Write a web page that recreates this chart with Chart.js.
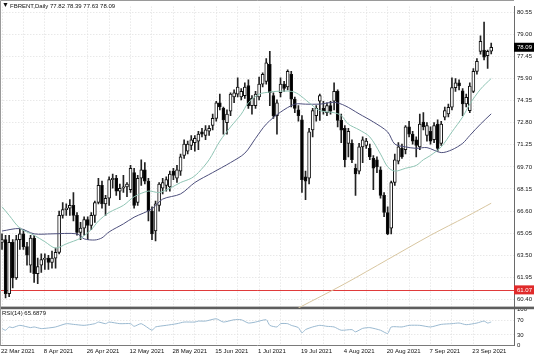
<!DOCTYPE html>
<html>
<head>
<meta charset="utf-8">
<script src="https://cdn.jsdelivr.net/npm/chart.js@4/dist/chart.umd.min.js"></script>
<style>
  html, body { margin: 0; padding: 0; background: #fff; }
  #wrap { position: relative; width: 536px; height: 357px; overflow: hidden; }
  canvas { position: absolute; left: 0; top: 0; }
  .lbl { position: absolute; font-family: 'Liberation Sans', Arial, sans-serif; font-size: 6px; line-height: 8px; color: #111; white-space: pre; }
</style>
</head>
<body>
<div id="wrap">
  <canvas id="c" width="536" height="357"></canvas>
  <div class="lbl" style="left:2px;top:1px;font-size:7px;">▼</div>
  <div class="lbl" style="left:10px;top:2px;">FBRENT,Daily 77.82 78.39 77.63 78.09</div>
  <div class="lbl" style="left:2px;top:309px;">RSI(14) 65.6879</div>
</div>
<script>
// ---- DATA ----
const opens  = [64.4,64.6,60.8,64.4,61.9,64.6,65.0,64.1,62.8,64.7,62.2,62.8,63.2,63.3,63.0,63.3,63.7,66.3,66.7,66.8,
  67.0,66.3,65.1,65.4,66.0,65.6,66.3,67.2,68.4,67.1,67.5,68.8,68.9,68.0,68.2,68.3,68.1,69.3,67.2,68.9,
  69.5,68.7,66.6,65.2,67.0,68.2,68.4,68.3,69.4,68.9,69.4,70.5,70.8,71.2,71.4,71.5,72.15,71.9,72.2,72.6,
  73.1,74.2,73.8,72.8,73.6,74.6,74.8,74.6,74.7,75.4,74.0,74.0,74.6,75.5,75.7,76.9,74.7,73.3,74.9,75.5,
  75.3,76.2,74.45,73.7,73.0,69.0,68.9,72.3,73.3,74.3,73.8,73.5,74.0,74.3,75.0,72.96,72.4,71.35,71.35,69.6,
  69.4,71.1,71.2,71.0,70.3,70.2,69.5,67.7,66.5,65.4,68.6,70.1,71.0,70.9,72.5,72.0,71.6,71.1,72.85,71.9,
  72.2,71.6,72.7,71.35,73.19,73.42,73.88,75.26,75.6,75.03,74.11,73.65,75.0,76.4,77.8,77.9,77.5,77.82];
const highs  = [65.0,64.9,64.9,64.6,64.9,65.4,65.3,64.4,64.9,64.9,63.3,63.6,63.6,63.5,63.8,64.0,66.6,67.2,67.1,67.4,
  67.9,66.5,65.8,66.2,66.2,66.5,67.3,68.9,68.7,67.7,69.0,69.2,69.1,68.5,69.1,68.6,69.8,69.6,69.1,70.2,
  70.0,68.9,66.9,67.3,68.6,68.9,69.0,69.4,69.6,69.8,70.6,71.6,71.5,71.9,71.9,72.2,72.4,72.6,72.6,73.4,
  74.3,74.8,73.9,73.7,74.9,75.1,75.95,75.2,75.6,75.8,74.7,75.0,76.0,76.3,77.3,77.8,74.9,74.4,75.95,75.7,
  76.5,76.4,74.6,74.0,73.3,69.4,72.4,73.8,74.0,74.8,74.3,74.2,74.3,75.6,75.1,73.4,72.6,72.4,71.6,69.9,
  71.35,71.8,71.7,71.3,70.5,70.4,69.7,67.9,66.9,68.7,70.6,71.4,71.3,72.6,72.9,72.2,71.8,73.4,73.5,72.8,
  72.5,72.8,73.0,72.9,73.9,74.1,75.95,75.9,75.8,75.2,74.8,75.6,76.6,77.3,78.9,79.86,77.9,78.39];
const lows   = [63.9,60.5,60.6,61.2,61.8,63.9,63.9,62.8,62.3,61.6,61.5,62.3,62.5,62.5,62.6,62.6,63.6,66.1,66.3,66.3,
  65.9,64.9,64.6,64.9,64.6,65.3,65.8,67.1,66.8,66.3,67.0,68.2,67.7,67.4,67.9,67.6,67.9,66.8,67.0,68.4,
  68.5,65.9,64.6,64.5,66.6,67.8,68.0,68.0,68.8,68.6,69.1,70.3,70.6,70.9,70.8,70.9,71.8,71.6,71.9,72.3,
  72.9,73.7,72.0,72.0,73.3,74.2,74.6,74.4,74.5,73.8,73.4,73.8,74.4,75.3,75.5,74.0,73.1,72.0,74.6,75.0,
  75.1,73.9,73.5,72.9,67.9,67.4,68.5,71.8,72.9,72.96,73.4,73.3,73.4,73.7,72.5,71.4,69.7,70.4,70.0,67.7,
  69.2,70.0,71.0,70.2,68.1,69.3,67.5,66.2,64.95,65.0,68.4,69.9,70.3,70.6,71.8,71.3,70.4,70.9,72.3,71.5,
  71.3,71.4,70.8,71.2,73.0,73.2,73.7,75.0,75.1,73.3,73.9,73.5,74.9,76.2,77.6,77.2,76.6,77.63];
const closes = [64.6,60.8,64.4,61.9,64.6,65.0,64.1,63.5,64.7,62.2,62.7,63.2,63.3,63.0,63.3,63.7,66.3,66.7,66.8,67.0,
  66.3,65.1,65.4,66.0,65.6,66.3,67.2,68.4,67.1,67.5,68.8,68.9,68.0,68.2,68.3,68.5,69.6,67.0,68.9,69.5,
  68.7,66.6,65.0,67.1,68.5,68.6,68.8,69.2,69.1,69.5,70.4,71.3,71.3,71.6,71.7,72.0,72.0,72.3,72.4,73.1,
  74.2,73.9,73.0,73.4,74.8,74.9,75.3,75.0,75.3,74.0,74.5,74.8,75.5,76.2,77.0,74.9,73.3,74.2,75.5,75.2,
  76.4,74.45,73.8,73.3,68.8,68.7,72.15,73.65,73.8,74.7,73.65,74.0,73.6,75.0,72.96,72.27,70.2,72.2,70.2,69.2,
  71.1,71.6,71.5,70.4,69.6,69.7,67.7,66.5,65.0,68.6,70.2,71.1,70.4,72.5,72.0,71.5,71.2,72.7,72.5,72.6,
  71.5,72.6,71.0,72.7,73.65,73.88,75.26,75.6,75.37,74.11,74.57,75.37,76.4,77.1,78.5,77.4,77.8,78.09];

// moving averages: [bar index, value]
const maFast = [[0,66.9],[2,66.3],[5,65.4],[9,64.9],[12,64.45],[15,64.0],[18,64.3],[22,64.7],[25,65.3],[27,65.9],
  [30,66.5],[34,67.0],[37,67.6],[41,68.0],[44,67.9],[47,68.2],[50,68.6],[53,68.9],[55,69.3],[58,70.2],[61,71.5],
  [64,72.5],[67,73.4],[69,74.2],[72,74.8],[75,74.95],[77,75.0],[81,75.0],[83,74.8],[86,74.2],[89,73.65],[93,73.5],
  [95,73.3],[97,72.7],[100,72.3],[103,71.8],[106,70.6],[108,69.7],[110,69.4],[113,69.6],[116,69.8],[118,70.2],
  [120,70.5],[123,71.1],[126,72.15],[129,73.2],[131,74.1],[134,75.15],[137,75.9]];
const maSlow = [[0,65.2],[5,65.37],[9,65.0],[14,65.0],[21,65.0],[23,64.65],[26,64.57],[28,64.72],[30,65.14],[34,65.7],
  [37,66.17],[42,66.75],[45,67.44],[50,67.8],[54,68.6],[59,69.3],[64,70.0],[68,70.66],[71,71.7],[74,72.7],[78,73.54],
  [82,74.1],[85,74.1],[89,74.1],[93,74.23],[96,74.0],[100,73.42],[104,72.85],[108,72.15],[110,71.3],[113,71.1],
  [116,71.0],[119,71.05],[123,70.7],[126,70.9],[129,71.35],[131,71.9],[134,72.7],[137,73.42]];
const maLong = [[83,59.8],[96,61.5],[108,63.2],[120,64.9],[130,66.2],[137,67.15]];

const rsiPoints = [[0,47.4],[1,42.8],[2,51.9],[3,50.1],[5,56.4],[8,50.1],[9,51.9],[11,47.4],[13,49.1],[15,51.9],
  [18,61.0],[20,59.1],[23,56.4],[26,61.0],[27,65.5],[29,61.0],[30,65.5],[33,61.0],[36,61.0],[37,53.7],[39,61.0],
  [42,42.8],[43,51.9],[46,56.4],[49,61.0],[51,65.5],[54,65.5],[55,68.2],[57,68.2],[60,74.6],[62,65.5],[65,71.9],
  [67,71.9],[69,62.8],[71,65.5],[74,71.9],[75,56.4],[77,51.9],[78,61.0],[80,61.0],[81,56.4],[83,50.1],[84,35.6],
  [85,44.6],[87,51.9],[89,56.4],[91,53.7],[93,51.9],[95,42.8],[98,44.6],[99,38.3],[101,48.0],[103,50.1],[106,42.8],
  [108,33.7],[109,51.9],[112,51.9],[114,56.4],[117,56.4],[120,51.9],[123,59.1],[126,61.0],[128,62.8],[130,58.2],
  [133,62.8],[135,68.2],[136,62.8],[137,65.69]];

const xTickLabels = ['22 Mar 2021','8 Apr 2021','26 Apr 2021','12 May 2021','28 May 2021','15 Jun 2021',
  '1 Jul 2021','19 Jul 2021','4 Aug 2021','20 Aug 2021','7 Sep 2021','23 Sep 2021'];
const priceTicks = [60.40,61.95,63.50,65.05,66.60,68.15,69.70,71.25,72.80,74.35,75.90,77.45,79.00,80.55];
const rsiTicks = [0,30,70,100];
const levelLine = 61.07;
const lastClose = 78.09;

// ---- build chart ----
const FONT = "'Liberation Sans', Arial, sans-serif";
const bodies = opens.map((o, i) => ({x: i, y: [o, closes[i]]}));
const wicks = lows.map((l, i) => ({x: i, y: [l, highs[i]]}));
const pts = arr => arr.map(([x, y]) => ({x, y}));
const isUp = ctx => { const i = ctx.dataIndex; return closes[i] >= opens[i]; };

const decor = {
  id: 'decor',
  beforeDatasetsDraw(chart) {
    const {ctx, chartArea: a, scales: {y}} = chart;
    ctx.save();
    // pane separator (drawn before datasets, after the grid; axis labels stay visible)
    ctx.fillStyle = '#5e5e5e';
    ctx.fillRect(0, y.bottom - 1.5, a.right + 20, 2.6);
    // level line
    const py = Math.round(y.getPixelForValue(levelLine)) + 0.5;
    ctx.strokeStyle = '#e03a3a';
    ctx.lineWidth = 1;
    ctx.beginPath(); ctx.moveTo(a.left, py); ctx.lineTo(a.right, py); ctx.stroke();
    ctx.restore();
  },
  afterDraw(chart) {
    const {ctx, chartArea: a, scales: {y}} = chart;
    ctx.save();
    ctx.strokeStyle = '#9a9a9a'; ctx.lineWidth = 1;
    ctx.beginPath(); ctx.moveTo(0.5, a.bottom); ctx.lineTo(0.5, 0.5); ctx.lineTo(a.right, 0.5); ctx.stroke();
    const tag = (v, bg) => {
      const py = y.getPixelForValue(v);
      ctx.fillStyle = bg;
      ctx.fillRect(a.right, py - 4.5, 20, 9);
      ctx.fillStyle = '#fff';
      ctx.font = '6px ' + FONT;
      ctx.textBaseline = 'middle';
      ctx.fillText(v.toFixed(2), a.right + 3, py + 0.5);
    };
    tag(lastClose, '#000000');
    tag(levelLine, '#e02a2a');
    ctx.restore();
  }
};

const GRID = '#dedede';
new Chart(document.getElementById('c'), {
  type: 'bar',
  data: {
    datasets: [
      {type: 'line', data: pts(maFast), yAxisID: 'y', borderColor: '#8fc4b4', borderWidth: 1, pointRadius: 0, tension: 0.3, order: 0},
      {type: 'line', data: pts(maSlow), yAxisID: 'y', borderColor: '#4d4f7c', borderWidth: 1, pointRadius: 0, tension: 0.3, order: 0},
      {type: 'line', data: pts(maLong), yAxisID: 'y', borderColor: '#d8c6a0', borderWidth: 1, pointRadius: 0, tension: 0.3, order: 0},
      {type: 'line', data: pts(rsiPoints), yAxisID: 'rsi', borderColor: '#9ab9d0', borderWidth: 1, pointRadius: 0, tension: 0.2, order: 0},
      {data: bodies, yAxisID: 'y', grouped: false, barThickness: 3, minBarLength: 1, borderSkipped: false,
       borderWidth: 1, borderColor: '#111',
       backgroundColor: ctx => isUp(ctx) ? '#ffffff' : '#000000', order: 1},
      {data: wicks, yAxisID: 'y', grouped: false, barThickness: 1, borderWidth: 0, backgroundColor: '#222', order: 2}
    ]
  },
  options: {
    responsive: false, animation: false, events: [],
    layout: {padding: {top: 1, left: 0, right: 0, bottom: 0}},
    plugins: {legend: {display: false}, tooltip: {enabled: false}},
    scales: {
      x: {
        type: 'linear', min: -0.4758, max: 143.381, offset: false,
        afterBuildTicks: s => { const t = []; for (let v = 0; v <= 137; v += 6) t.push({value: v}); s.ticks = t; },
        afterFit: s => { s.height = 11.3; },
        grid: {color: GRID, drawTicks: false, offset: false},
        border: {display: true, color: '#7a7a7a', dash: [1, 2]},
        ticks: {
          autoSkip: false, maxRotation: 0, align: 'start', labelOffset: -1, padding: 2, color: '#111',
          font: {family: FONT, size: 6},
          callback: v => (v % 12 === 0 ? xTickLabels[v / 12] : '')
        }
      },
      y: {
        type: 'linear', position: 'right', stack: 'panes', stackWeight: 306.5,
        min: 59.79, max: 80.943,
        afterBuildTicks: s => { s.ticks = priceTicks.map(v => ({value: v})); },
        afterFit: s => { s.width = 22; },
        grid: {color: GRID, drawTicks: false},
        border: {display: true, color: '#6a6a6a', dash: [1, 2]},
        ticks: {autoSkip: false, padding: 3, color: '#111', font: {family: FONT, size: 6}, callback: v => v.toFixed(2)}
      },
      rsi: {
        type: 'linear', position: 'right', stack: 'panes', stackWeight: 38.2,
        min: 0, max: 104.09,
        afterBuildTicks: s => { s.ticks = rsiTicks.map(v => ({value: v})); },
        afterFit: s => { s.width = 22; },
        grid: {color: c => (c.tick && (c.tick.value === 30 || c.tick.value === 70)) ? GRID : 'rgba(0,0,0,0)', drawTicks: false},
        border: {display: true, color: '#6a6a6a', dash: [1, 2]},
        ticks: {autoSkip: false, padding: 3, color: '#111', font: {family: FONT, size: 6}, callback: v => String(v)}
      }
    }
  },
  plugins: [decor]
});
</script>
</body>
</html>
